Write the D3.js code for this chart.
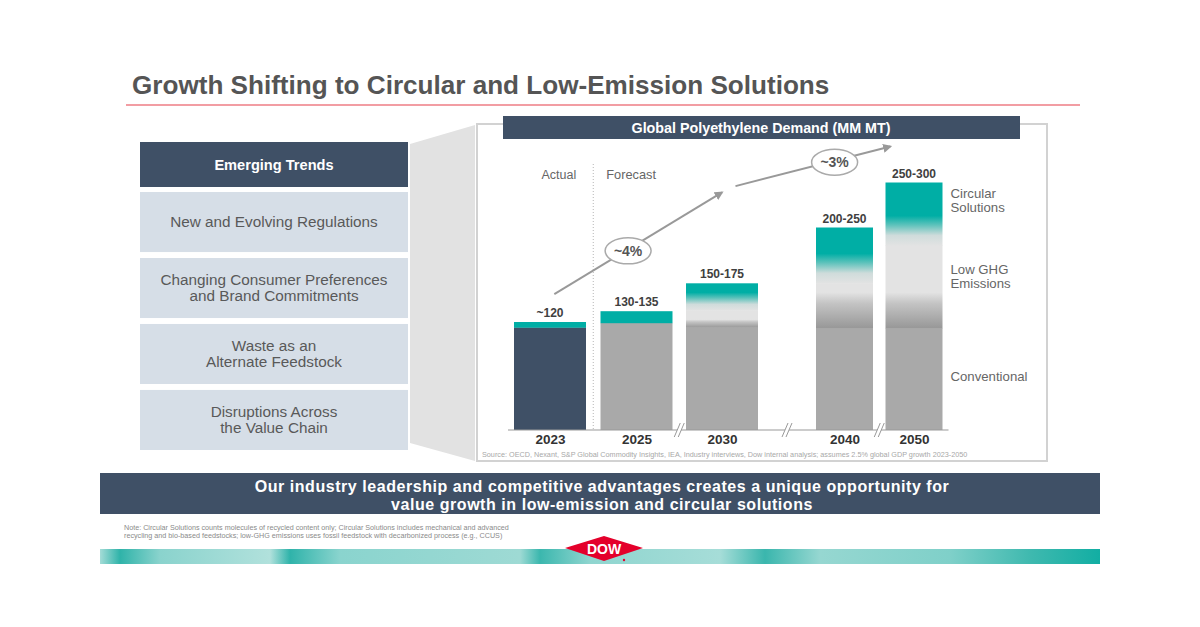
<!DOCTYPE html>
<html><head><meta charset="utf-8">
<script src="https://cdn.jsdelivr.net/npm/d3@7"></script>
<style>
html,body{margin:0;padding:0;background:#fff;}
svg{display:block;font-family:"Liberation Sans",Arial,Helvetica,sans-serif;}
</style></head>
<body>
<script>
// ---------------- DATA ----------------
const years = [2023, 2025, 2030, 2040, 2050];
const conventional = [114, 119, 114, 113, 113];
const lowGHG = [0, 0, 19, 50, 92];
const circular = [6, 13, 30, 62, 70];
const rangeLabels = ["~120", "130-135", "150-175", "200-250", "250-300"];
const isActual = [true, false, false, false, false];
const growthLabels = ["~4%", "~3%"];
const growthFrom = [[2023.1, 151], [2031.1, 271]];
const growthTo = [[2030, 264], [2046.6, 315]];
const trends = [["New and Evolving Regulations"], ["Changing Consumer Preferences", "and Brand Commitments"], ["Waste as an", "Alternate Feedstock"], ["Disruptions Across", "the Value Chain"]];
const segmentNames = [["Circular", "Solutions"], ["Low GHG", "Emissions"], ["Conventional"]];

// ---------------- SETUP ----------------
const W = 1200, H = 627;
const svg = d3.select("body").append("svg").attr("width", W).attr("height", H);
const defs = svg.append("defs");
const C = {navy: "#3f5066", teal: "#00aea5", gray: "#a9a9a9", dark: "#979797", light: "#e3e3e3", text: "#595959", box: "#d6dee7"};

// Title
svg.append("text").attr("x", 132).attr("y", 94).attr("font-size", 26.1).attr("font-weight", "bold")
  .attr("fill", "#555").text("Growth Shifting to Circular and Low-Emission Solutions");
svg.append("line").attr("x1", 126).attr("x2", 1080).attr("y1", 105).attr("y2", 105)
  .attr("stroke", "#ee7c85").attr("stroke-width", 1.5);

// Left panel
svg.append("rect").attr("x", 140).attr("y", 142).attr("width", 268).attr("height", 45).attr("fill", C.navy);
svg.append("text").attr("x", 274).attr("y", 170).attr("text-anchor", "middle").attr("fill", "#fff")
  .attr("font-size", 14.6).attr("font-weight", "bold").text("Emerging Trends");
const boxY = d3.scaleBand().domain(d3.range(trends.length)).range([192, 450]).paddingInner(0.09);
const tg = svg.append("g").selectAll("g").data(trends).join("g");
tg.append("rect").attr("x", 140).attr("y", (d, i) => boxY(i)).attr("width", 268).attr("height", boxY.bandwidth()).attr("fill", C.box);
tg.each(function (d, i) {
  const cy = boxY(i) + boxY.bandwidth() / 2;
  const lh = 15.5;
  d3.select(this).selectAll("text").data(d).join("text")
    .attr("x", 274).attr("y", (t, j) => cy + (j - (d.length - 1) / 2) * lh + 5)
    .attr("text-anchor", "middle").attr("font-size", 15.3).attr("fill", C.text).text(t => t);
});

// Trapezoid connector
svg.append("polygon").attr("points", "410,144 475,125 475,461 410,443").attr("fill", "#e2e2e2");

// Chart frame
svg.append("rect").attr("x", 477).attr("y", 124).attr("width", 570).attr("height", 337)
  .attr("fill", "#fff").attr("stroke", "#d2d2d2").attr("stroke-width", 2);
svg.append("rect").attr("x", 503).attr("y", 116).attr("width", 517).attr("height", 23).attr("fill", C.navy);
svg.append("text").attr("x", 761).attr("y", 132.5).attr("text-anchor", "middle").attr("fill", "#fff")
  .attr("font-size", 14.3).attr("font-weight", "bold").text("Global Polyethylene Demand (MM MT)");

// Scales (broken, piecewise x axis)
const x = d3.scaleLinear().domain(years).range([550, 636.5, 722, 844.5, 914]);
const barW = d => (d >= 2040 ? 57 : 72);
const y = d3.scaleLinear().domain([0, 300]).range([430, 160]);

// Gradients
function vGrad(id, stops) {
  const g = defs.append("linearGradient").attr("id", id).attr("x1", 0).attr("x2", 0).attr("y1", 1).attr("y2", 0);
  stops.forEach(s => g.append("stop").attr("offset", s[0]).attr("stop-color", s[1]));
  return `url(#${id})`;
}

const bars = svg.append("g");
years.forEach((yr, i) => {
  const bx = x(yr) - barW(yr) / 2, bw = barW(yr);
  const c0 = y(0), c1 = y(conventional[i]);
  const l1 = y(conventional[i] + lowGHG[i]);
  const t1 = y(conventional[i] + lowGHG[i] + circular[i]);
  bars.append("rect").attr("x", bx).attr("width", bw).attr("y", c1).attr("height", c0 - c1)
    .attr("fill", isActual[i] ? C.navy : C.gray);
  if (lowGHG[i] > 0) {
    const h = c1 - l1;
    const f = Math.min(36, h - 9) / h;
    bars.append("rect").attr("x", bx).attr("width", bw).attr("y", l1).attr("height", h + 0.3)
      .attr("fill", vGrad("lg" + i, [[0, C.dark], [f * 0.7, "#c4c4c4"], [f, C.light], [1, C.light]]));
    const hc = l1 - t1;
    const fc = Math.min(30, hc - 9) / hc;
    bars.append("rect").attr("x", bx).attr("width", bw).attr("y", t1).attr("height", hc + 0.5)
      .attr("fill", vGrad("cg" + i, [[0, C.light], [fc * 0.35, "#cfdcdb"], [fc * 0.7, "#5cc2bb"], [fc, C.teal], [1, C.teal]]));
  } else {
    bars.append("rect").attr("x", bx).attr("width", bw).attr("y", t1).attr("height", c1 - t1 + 0.3).attr("fill", C.teal);
  }
  svg.append("text").attr("x", x(yr)).attr("y", t1 - 5).attr("text-anchor", "middle")
    .attr("font-size", 12).attr("font-weight", "bold").attr("fill", "#404040").text(rangeLabels[i]);
});

// Baseline + axis
const x0 = x(years[0]) - barW(years[0]) / 2 - 6, x1 = x(years[years.length - 1]) + barW(years[years.length - 1]) / 2 + 6;
svg.append("line").attr("x1", x0).attr("x2", x1).attr("y1", y(0)).attr("y2", y(0)).attr("stroke", "#999").attr("stroke-width", 1.2);
const axis = svg.append("g").attr("transform", `translate(0,${y(0)})`)
  .call(d3.axisBottom(x).tickValues(years).tickSize(0).tickPadding(4).tickFormat(d3.format("d")));
axis.select(".domain").remove();
axis.selectAll("text").attr("font-size", 13.5).attr("font-weight", "bold").attr("fill", "#333")
  .attr("font-family", "Liberation Sans, Arial, sans-serif");

// Axis break marks between non-adjacent periods
const breakAt = [[1, 2], [2, 3], [3, 4]].map(([a, b]) => (x(years[a]) + barW(years[a]) / 2 + x(years[b]) - barW(years[b]) / 2) / 2);
breakAt.forEach(bxm => {
  const g = svg.append("g").attr("transform", `translate(${bxm},${y(0)})`);
  g.append("polygon").attr("points", "-5,7 1,-7 5,-7 -1,7").attr("fill", "#fff");
  g.append("line").attr("x1", -5).attr("y1", 7).attr("x2", 1).attr("y2", -7).attr("stroke", "#999").attr("stroke-width", 1);
  g.append("line").attr("x1", -1).attr("y1", 7).attr("x2", 5).attr("y2", -7).attr("stroke", "#999").attr("stroke-width", 1);
});

// Actual / Forecast divider
const divX = (x(years[0]) + barW(years[0]) / 2 + x(years[1]) - barW(years[1]) / 2) / 2;
svg.append("line").attr("x1", divX).attr("x2", divX).attr("y1", 164).attr("y2", y(0))
  .attr("stroke", "#b5b5b5").attr("stroke-width", 1).attr("stroke-dasharray", "1,2");
svg.append("text").attr("x", divX - 17).attr("y", 178.5).attr("text-anchor", "end").attr("font-size", 12.5).attr("fill", "#666").text("Actual");
svg.append("text").attr("x", divX + 13).attr("y", 178.5).attr("font-size", 12.8).attr("fill", "#666").text("Forecast");

// Growth arrows
defs.append("marker").attr("id", "ah").attr("viewBox", "0 0 10 10").attr("refX", 8).attr("refY", 5)
  .attr("markerWidth", 4.5).attr("markerHeight", 4.5).attr("orient", "auto")
  .append("path").attr("d", "M0,0 L10,5 L0,10 z").attr("fill", "#999");
const labelT = [0.44, 0.64];
growthLabels.forEach((lab, i) => {
  const ax0 = x(growthFrom[i][0]), ay0 = y(growthFrom[i][1]);
  const ax1 = x(growthTo[i][0]), ay1 = y(growthTo[i][1]);
  svg.append("line").attr("x1", ax0).attr("y1", ay0).attr("x2", ax1).attr("y2", ay1)
    .attr("stroke", "#999").attr("stroke-width", 2).attr("marker-end", "url(#ah)");
  const cx = ax0 + (ax1 - ax0) * labelT[i], cy = ay0 + (ay1 - ay0) * labelT[i] + 1.5;
  svg.append("ellipse").attr("cx", cx).attr("cy", cy).attr("rx", 23).attr("ry", 13)
    .attr("fill", "#fff").attr("stroke", "#aaa").attr("stroke-width", 1.5);
  svg.append("text").attr("x", cx).attr("y", cy + 5).attr("text-anchor", "middle")
    .attr("font-size", 14).attr("font-weight", "bold").attr("fill", "#555").text(lab);
});

// Segment labels on right
const lastI = years.length - 1;
const labX = x(years[lastI]) + barW(years[lastI]) / 2 + 8;
const segMid = [
  (y(conventional[lastI] + lowGHG[lastI] + circular[lastI]) + y(conventional[lastI] + lowGHG[lastI])) / 2 - 14,
  (y(conventional[lastI] + lowGHG[lastI]) + y(conventional[lastI])) / 2 - 10,
  (y(conventional[lastI]) + y(0)) / 2 - 3
];
segmentNames.forEach((lines, k) => {
  svg.append("g").selectAll("text").data(lines).join("text")
    .attr("x", labX).attr("y", (t, j) => segMid[k] + (j - (lines.length - 1) / 2) * 14 + 4.5)
    .attr("font-size", 13.2).attr("fill", "#666").text(t => t);
});

// Source
svg.append("text").attr("x", 482).attr("y", 457).attr("font-size", 7.25).attr("fill", "#a8a8a8")
  .text("Source: OECD, Nexant, S&P Global Commodity Insights, IEA, Industry interviews, Dow internal analysis; assumes 2.5% global GDP growth 2023-2050");

// Bottom banner
svg.append("rect").attr("x", 100).attr("y", 473).attr("width", 1000).attr("height", 41).attr("fill", C.navy);
svg.append("text").attr("x", 602).attr("y", 491.5).attr("text-anchor", "middle").attr("fill", "#fff")
  .attr("font-size", 16).attr("letter-spacing", 0.55).attr("font-weight", "bold").text("Our industry leadership and competitive advantages creates a unique opportunity for");
svg.append("text").attr("x", 602).attr("y", 509.5).attr("text-anchor", "middle").attr("fill", "#fff")
  .attr("font-size", 16).attr("letter-spacing", 0.55).attr("font-weight", "bold").text("value growth in low-emission and circular solutions");

// Note
svg.append("text").attr("x", 124).attr("y", 530).attr("font-size", 7.2).attr("fill", "#8a8a8a")
  .text("Note: Circular Solutions counts molecules of recycled content only; Circular Solutions includes mechanical and advanced");
svg.append("text").attr("x", 124).attr("y", 538).attr("font-size", 7.2).attr("fill", "#8a8a8a")
  .text("recycling and bio-based feedstocks; low-GHG emissions uses fossil feedstock with decarbonized process (e.g., CCUS)");

// Teal footer stripe
const sg = defs.append("linearGradient").attr("id", "stripe").attr("gradientUnits", "userSpaceOnUse")
  .attr("x1", 100).attr("x2", 1100).attr("y1", 549).attr("y2", 549);
[[0, "#a4dcd7"], [0.02, "#2fb3a9"], [0.06, "#8ad3cd"], [0.17, "#b1e1dc"], [0.19, "#2fb3aa"], [0.24, "#8ad4ce"],
 [0.42, "#9edad4"], [0.44, "#3bb7ae"], [0.49, "#8fd5cf"], [0.62, "#a6ddd8"], [0.665, "#3ab6ad"], [0.72, "#96d7d1"],
 [0.85, "#7fd0c9"], [0.93, "#3fb9af"], [1, "#12aea3"]].forEach(s => sg.append("stop").attr("offset", s[0]).attr("stop-color", s[1]));
svg.append("rect").attr("x", 100).attr("y", 549).attr("width", 1000).attr("height", 15).attr("fill", "url(#stripe)");

// Dow logo
svg.append("polygon").attr("points", "565,548 604,536 643,548 604,561").attr("fill", "#e4002b");
svg.append("text").attr("x", 604).attr("y", 553.5).attr("text-anchor", "middle").attr("fill", "#fff")
  .attr("font-size", 14).attr("font-weight", "bold").text("DOW");
svg.append("circle").attr("cx", 624).attr("cy", 560).attr("r", 1.2).attr("fill", "#e4002b");
</script>
</body></html>
